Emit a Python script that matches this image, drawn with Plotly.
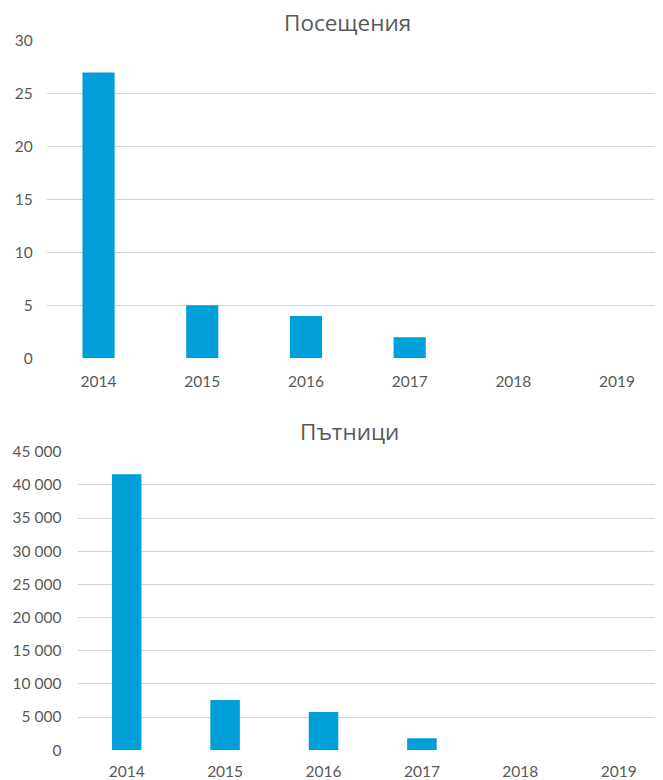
import plotly.graph_objects as go

years = ["2014", "2015", "2016", "2017", "2018", "2019"]
visits = [27, 5, 4, 2, 0, 0]
passengers = [41600, 7550, 5750, 1800, 0, 0]

title_top = "Посещения"
title_bottom = "Пътници"

BAR = "#009FDA"
GRID = "#D4D4D4"
TXT = "#595959"
FONT = "Lato"
TFONT = "Open Sans"
OFF = 8  # page body margin
W, H = 663 - OFF, 780 - OFF

def px(x):
    return (x - OFF) / W

def yd(top_px, bot_px):
    return [1 - (bot_px - OFF) / H, 1 - (top_px - OFF) / H]

fig = go.Figure()
fig.add_trace(go.Bar(x=years, y=visits, marker=dict(color=BAR, line=dict(width=0)),
                     width=0.31, xaxis="x", yaxis="y", hoverinfo="x+y"))
fig.add_trace(go.Bar(x=years, y=passengers, marker=dict(color=BAR, line=dict(width=0)),
                     width=0.30, xaxis="x2", yaxis="y2", hoverinfo="x+y"))

tick_font = dict(size=15.5, color=TXT, family=FONT)

fig.update_layout(
    width=W, height=H,
    margin=dict(l=0, r=0, t=0, b=0),
    paper_bgcolor="white", plot_bgcolor="white",
    showlegend=False,
    separators=". ",
    font=dict(family=FONT, color=TXT, size=15),
    xaxis=dict(domain=[px(46.7), 1], range=[-0.5, 5.443], type="category",
               showgrid=False, showline=False, ticks="", zeroline=False,
               tickfont=tick_font, anchor="y", automargin=False,
               ticklabelstandoff=12),
    yaxis=dict(domain=yd(40.7, 358.3), range=[0, 30], dtick=5, showgrid=True,
               gridcolor=GRID, gridwidth=1, zeroline=False, showline=False, ticks="",
               tickfont=tick_font, anchor="x", automargin=False,
               ticklabelstandoff=13),
    xaxis2=dict(domain=[px(77.5), 1], range=[-0.5, 5.45], type="category",
                showgrid=False, showline=False, ticks="", zeroline=False,
                tickfont=tick_font, anchor="y2", automargin=False,
                ticklabelstandoff=10),
    yaxis2=dict(domain=yd(451.7, 750.2), range=[0, 45000], dtick=5000, showgrid=True,
                gridcolor=GRID, gridwidth=1, zeroline=False, showline=False, ticks="",
                tickformat=",d",
                tickfont=tick_font, anchor="x2", automargin=False,
                ticklabelstandoff=15),
    annotations=[
        dict(text=title_top, x=px(347), y=1 - (23 - OFF) / H, xref="paper", yref="paper",
             showarrow=False, font=dict(size=22.5, color=TXT, family=TFONT),
             xanchor="center", yanchor="middle"),
        dict(text=title_bottom, x=px(349), y=1 - (432 - OFF) / H, xref="paper", yref="paper",
             showarrow=False, font=dict(size=22.5, color=TXT, family=TFONT),
             xanchor="center", yanchor="middle"),
    ],
)

fig.write_html("out.html")
